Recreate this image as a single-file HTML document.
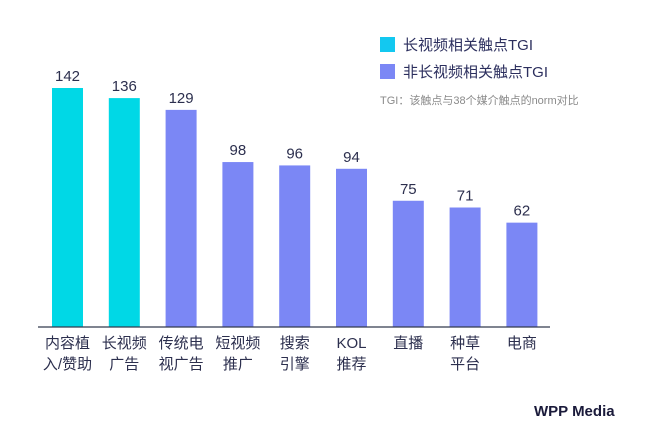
<!DOCTYPE html>
<html><head><meta charset="utf-8"><style>
body{margin:0;background:#fff;}
svg{display:block;font-family:"Liberation Sans","Noto Sans CJK SC",sans-serif;}
</style></head><body>
<svg id="chart" width="650" height="431" viewBox="0 0 650 431">
<g id="bars"></g>
<line x1="38" y1="327" x2="550" y2="327" stroke="#333a4d" stroke-width="1.2"/>
<g>
<rect x="380" y="37" width="15" height="15" fill="#13c8f0"/>
<text x="403" y="50" font-size="15" fill="#2c2f5e">长视频相关触点TGI</text>
<rect x="380" y="64" width="15" height="15" fill="#7b87f5"/>
<text x="403" y="77" font-size="15" fill="#2c2f5e">非长视频相关触点TGI</text>
<text x="380" y="104" font-size="11" fill="#8a8a8a">TGI：该触点与38个媒介触点的norm对比</text>
</g>
<text x="534" y="416" font-size="15" font-weight="bold" fill="#1a1a3a">WPP Media</text>
</svg>
<script>
const categories=[["内容植","入/赞助"],["长视频","广告"],["传统电","视广告"],["短视频","推广"],["搜索","引擎"],["KOL","推荐"],["直播",""],["种草","平台"],["电商",""]];
const values=[142,136,129,98,96,94,75,71,62];
const isLongVideo=[true,true,false,false,false,false,false,false,false];
const baseY=327, scale=239/142, x0=67.5, step=56.8, bw=31;
const xPos=i=>x0+i*step;
const yPos=v=>baseY-v*scale;
const g=document.getElementById('bars');
const NS='http://www.w3.org/2000/svg';
values.forEach((v,i)=>{
  const r=document.createElementNS(NS,'rect');
  
  
  r.setAttribute('x',xPos(i)-bw/2);r.setAttribute('y',yPos(v));
  r.setAttribute('width',bw);r.setAttribute('height',baseY-yPos(v));
  r.setAttribute('fill',isLongVideo[i]?'#00d8e6':'#7b87f5');
  g.appendChild(r);
  const t=document.createElementNS(NS,'text');
  
  
  t.setAttribute('x',xPos(i));t.setAttribute('y',yPos(v)-7);
  t.setAttribute('text-anchor','middle');t.setAttribute('font-size','15');t.setAttribute('fill','#2c2f4e');
  t.textContent=v;g.appendChild(t);
  categories[i].forEach((line,k)=>{
    if(!line)return;
    const c=document.createElementNS(NS,'text');
    
    
    c.setAttribute('x',xPos(i));c.setAttribute('y',348+k*21);
    c.setAttribute('text-anchor','middle');c.setAttribute('font-size','15');c.setAttribute('fill','#2c2f4e');
    c.textContent=line;g.appendChild(c);
  });
});
</script>
</body></html>
